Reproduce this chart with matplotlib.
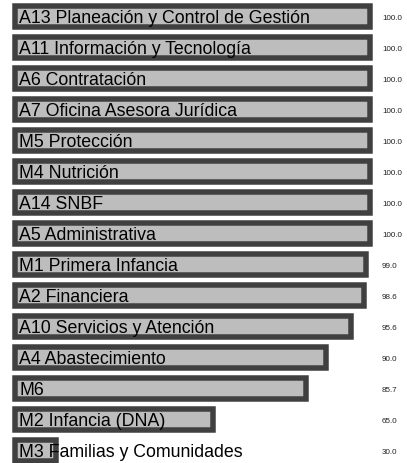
import matplotlib

matplotlib.use("Agg")
import matplotlib.pyplot as plt

# dependencies, top to bottom
labels = [
    "A13 Planeación y Control de Gestión",
    "A11 Información y Tecnología",
    "A6 Contratación",
    "A7 Oficina Asesora Jurídica",
    "M5 Protección",
    "M4 Nutrición",
    "A14 SNBF",
    "A5 Administrativa",
    "M1 Primera Infancia",
    "A2 Financiera",
    "A10 Servicios y Atención",
    "A4 Abastecimiento",
    "M6",
    "M2 Infancia (DNA)",
    "M3 Familias y Comunidades",
]
values = [100.0, 100.0, 100.0, 100.0, 100.0, 100.0, 100.0, 100.0,
          99.0, 98.6, 95.6, 90.0, 85.7, 65.0, 30.0]

BASE = 20.9  # bars grow from here, not from zero
EDGE = "#404040"
FILL = "#bdbdbd"

plt.rcParams["font.family"] = ["Liberation Sans", "DejaVu Sans"]

fig = plt.figure(figsize=(4.07, 4.63), dpi=100)
ax = fig.add_axes([0, 0, 1, 1])

rows = list(range(len(labels)))
widths = [v - BASE for v in values]
ax.barh(rows, widths, left=BASE, height=0.69, color=FILL,
        edgecolor=EDGE, linewidth=3.96)

# labels sit on a fixed baseline inside the bar; values in a column right of 100
for i, (lab, v) in enumerate(zip(labels, values)):
    ax.annotate(lab, (BASE, i), xytext=(3.3, -4.5), textcoords="offset points",
                ha="left", va="baseline", fontsize=12.8, color="black")
    ax.annotate(f"{v:.1f}", (100, i), xytext=(8.3, -2.1), textcoords="offset points",
                ha="left", va="baseline", fontsize=5.8, color="#222222")

ax.set_xlim(17.59, 108.12)
ax.set_ylim(14.394, -0.542)
ax.axis("off")

fig.savefig("out.png", dpi=100)
